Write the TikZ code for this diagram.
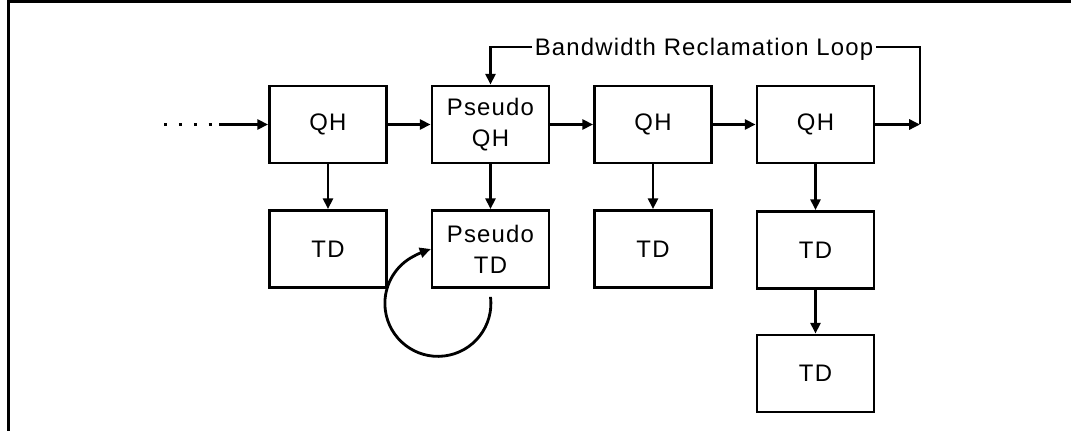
\documentclass[tikz,border=0pt]{standalone}
\usepackage{fontspec}
\setmainfont{Liberation Sans}[LetterSpace=5]
\usetikzlibrary{arrows.meta}

\begin{document}
\begin{tikzpicture}[x=0.25cm,y=0.25cm,line width=2pt,
    >={Triangle[length=0.27cm,width=0.25cm]},
    blk/.style={draw,minimum width=2.925cm,minimum height=1.925cm,align=center,
      inner sep=0pt,font=\fontsize{17}{22}\selectfont},
    lbl/.style={inner sep=1pt,text height=12.2pt,text depth=0pt,
      font=\fontsize{17}{22}\selectfont}]
    \useasboundingbox (0,0) rectangle (107.1,43.1);
    \draw (0.85,0) |- (107.1,42.95);
    \node[blk] (qh1) at (32.8,30.65) {QH};
    \node[blk] (pqh) at (49.05,30.65) {Pseudo\\QH};
    \node[blk] (qh3) at (65.3,30.65) {QH};
    \node[blk] (qh4) at (81.55,30.65) {QH};
    \node[blk] (td1) at (32.8,18.2) {TD};
    \node[blk] (ptd) at (49.05,18.2) {Pseudo\\TD};
    \node[blk] (td3) at (65.3,18.2) {TD};
    \node[blk] (td4a) at (81.55,18.1) {TD};
    \node[blk] (td4b) at (81.55,5.75) {TD};
    \node[lbl] (bw) at (70.4,38.4) {Bandwidth Reclamation Loop};
    \coordinate (dotstart) at (16.4,30.65);
    \coordinate (dotend) at (21.2,30.65);
    \coordinate (instart) at (21.9,30.65);
    \coordinate (loopend) at (92,30.65);
    \draw[dash pattern=on 2.1pt off 8.5pt] (dotstart) -- (dotend);
    \draw[->] (instart) -- (qh1);
    \draw[->] (qh1) -- (pqh);
    \draw[->] (pqh) -- (qh3);
    \draw[->] (qh3) -- (qh4);
    \draw[->] (qh4) -- (loopend);
    \draw (loopend) |- (bw);
    \draw[->] (bw) -| (pqh);
    \draw[->] (qh1) -- (td1);
    \draw[->] (pqh) -- (ptd);
    \draw[->] (qh3) -- (td3);
    \draw[->] (qh4) -- (td4a);
    \draw[->] (td4a) -- (td4b);
    \coordinate (loopst) at ([yshift=-0.2cm]ptd.south);
    \draw[->] (loopst) arc[start angle=7,end angle=-235,radius=5.3]
      .. controls +(35:0.8) and +(200:0.6) .. (ptd.west);
\end{tikzpicture}
\end{document}
